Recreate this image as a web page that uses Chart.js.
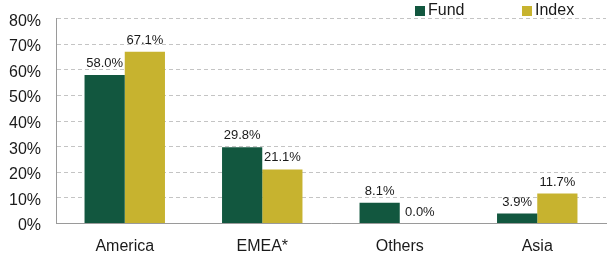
<!DOCTYPE html>
<html>
<head>
<meta charset="utf-8">
<script src="https://cdn.jsdelivr.net/npm/chart.js@4.4.1/dist/chart.umd.min.js"></script>
<style>
  html, body { margin: 0; padding: 0; background: #fff; }
  #wrap { width: 608px; height: 258px; }
</style>
</head>
<body>
<div id="wrap"><canvas id="chart"></canvas></div>
<script>
// regional allocation, in %
const categories = ['America', 'EMEA*', 'Others', 'Asia'];
const fundValues = [58.0, 29.8, 8.1, 3.9];
const indexValues = [67.1, 21.1, 0.0, 11.7];
const yTicks = [0, 10, 20, 30, 40, 50, 60, 70, 80];

const FUND_COL = '#12573F';
const INDEX_COL = '#C7B32F';
const FONT = 'Liberation Sans, Arial, sans-serif';

// value labels above each bar
const barLabels = {
  id: 'barLabels',
  afterDatasetsDraw(chart) {
    const ctx = chart.ctx;
    ctx.save();
    ctx.font = '13px ' + FONT;
    ctx.fillStyle = '#1a1a1a';
    ctx.textAlign = 'center';
    ctx.textBaseline = 'alphabetic';
    chart.data.datasets.forEach((ds, i) => {
      chart.getDatasetMeta(i).data.forEach((bar, j) => {
        ctx.fillText(ds.data[j].toFixed(1) + '%', bar.x, bar.y - 8);
      });
    });
    ctx.restore();
  }
};

// legend in the top right corner, built from the datasets
const cornerLegend = {
  id: 'cornerLegend',
  afterDraw(chart) {
    const ctx = chart.ctx;
    const starts = [415, 522];
    ctx.save();
    ctx.font = '16px ' + FONT;
    ctx.textBaseline = 'middle';
    ctx.textAlign = 'left';
    chart.data.datasets.forEach((ds, i) => {
      const x = starts[i];
      ctx.fillStyle = ds.backgroundColor;
      ctx.fillRect(x, 6, 10, 10);
      ctx.fillStyle = '#1a1a1a';
      ctx.fillText(ds.label, x + 13, 11);
    });
    ctx.restore();
  }
};

new Chart(document.getElementById('chart'), {
  type: 'bar',
  data: {
    labels: categories,
    datasets: [
      { label: 'Fund', data: fundValues, backgroundColor: FUND_COL },
      { label: 'Index', data: indexValues, backgroundColor: INDEX_COL },
    ],
  },
  options: {
    responsive: true, maintainAspectRatio: false,
    animation: false,
    layout: { padding: { top: 18.7, right: 2, left: 0, bottom: 0 } },
    datasets: { bar: { categoryPercentage: 0.585, barPercentage: 1.0 } },
    plugins: { legend: { display: false }, tooltip: { enabled: false } },
    scales: {
      x: {
        grid: { display: false, drawTicks: false },
        border: { color: '#9a9a9a', width: 1 },
        ticks: { font: { family: FONT, size: 16 }, color: '#1a1a1a', padding: 13 },
        afterFit: s => { s.height = 34.5; s.paddingLeft = 0; s.paddingRight = 0; },
      },
      y: {
        min: 0, max: 80,
        afterBuildTicks: s => { s.ticks = yTicks.map(v => ({ value: v })); },
        grid: { color: '#c4c4c4', drawTicks: false },
        border: { color: '#9a9a9a', width: 1, dash: [4, 3] },
        ticks: { font: { family: FONT, size: 16 }, color: '#1a1a1a', padding: 15,
                 labelOffset: 2.5, callback: v => v + '%' },
        afterFit: s => { s.width = 56; s.paddingTop = 0; s.paddingBottom = 0; },
      },
    },
  },
  plugins: [barLabels, cornerLegend],
});
</script>
</body>
</html>
